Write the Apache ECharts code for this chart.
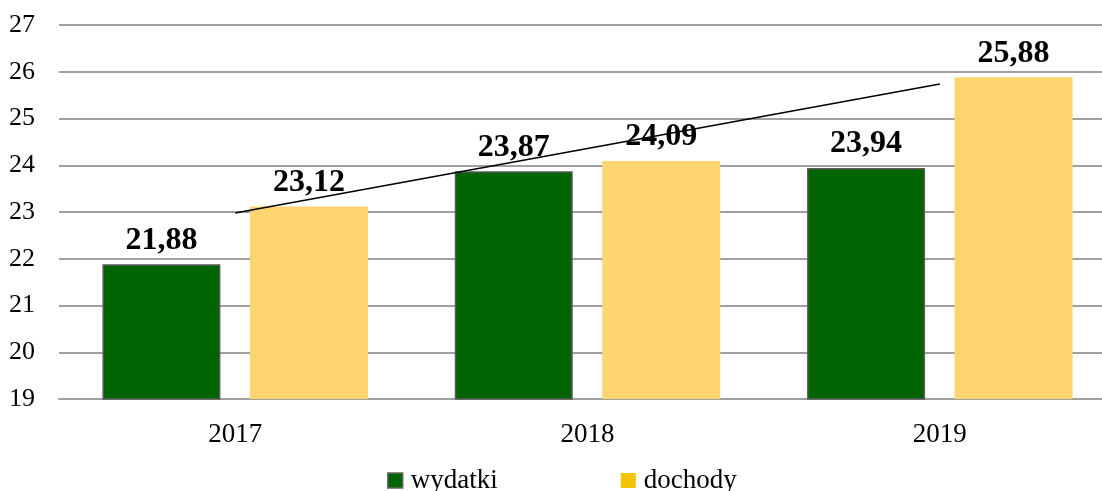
<!DOCTYPE html>
<html>
<head>
<meta charset="utf-8">
<style>
  html, body { margin: 0; padding: 0; background: #fff; }
  #app { width: 1102px; height: 491px; }
</style>
<script src="https://cdn.jsdelivr.net/npm/echarts@6/dist/echarts.min.js"></script>
</head>
<body>
<div id="app"></div>
<script>
// dane
var years = ['2017', '2018', '2019'];
var wydatki = [21.88, 23.87, 23.94];
var dochody = [23.12, 24.09, 25.88];
// linia trendu (dochody)
var trend = [22.98, 24.36, 25.74];

var font = '"Liberation Serif", "Times New Roman", serif';
var fmt = function (p) { return p.value.toFixed(2).replace('.', ','); };

var myEchart = echarts.init(document.getElementById('app'));

var optionData = {
    animation: false,
    grid: { left: 59, width: 1057, top: 25, bottom: 92, outerBoundsMode: 'none', containLabel: false },
    legend: {
        top: 462,
        left: 382,
        itemWidth: 15,
        itemHeight: 15,
        itemGap: 123,
        textStyle: { fontFamily: font, fontSize: 27, color: '#000', padding: [0, 0, 0, 3] },
        data: [
            { name: 'wydatki', icon: 'rect', itemStyle: { color: '#006400', borderColor: '#666', borderWidth: 1.5 } },
            { name: 'dochody', icon: 'rect', itemStyle: { color: '#F5C400', borderWidth: 0 } }
        ]
    },
    xAxis: {
        type: 'category',
        data: years,
        axisTick: { show: false },
        axisLine: { lineStyle: { color: '#A0A0A0', width: 2 } },
        axisLabel: { fontFamily: font, fontSize: 27, color: '#000', margin: 22 }
    },
    yAxis: {
        type: 'value',
        min: 19,
        max: 27,
        interval: 1,
        axisLine: { show: false },
        axisTick: { show: false },
        axisLabel: { fontFamily: font, fontSize: 26, color: '#000', margin: 24 },
        splitLine: { lineStyle: { color: '#A0A0A0', width: 2 } }
    },
    series: [
        {
            name: 'wydatki',
            type: 'bar',
            data: wydatki,
            barWidth: 118,
            barGap: '25%',
            itemStyle: { color: '#006400', borderColor: '#5A5A5A', borderWidth: 1.5 },
            label: {
                show: true, position: 'top', distance: 8, formatter: fmt,
                fontFamily: font, fontSize: 32, fontWeight: 'bold', color: '#000'
            }
        },
        {
            name: 'dochody',
            type: 'bar',
            data: dochody,
            barWidth: 118,
            barGap: '25%',
            itemStyle: { color: '#FED46E' },
            label: {
                show: true, position: 'top', distance: 8, formatter: fmt,
                fontFamily: font, fontSize: 32, fontWeight: 'bold', color: '#000'
            }
        },
        {
            name: 'trend',
            type: 'line',
            data: trend,
            symbol: 'none',
            silent: true,
            z: 5,
            lineStyle: { color: '#000', width: 1.5 }
        }
    ]
};

myEchart.setOption(optionData);
</script>
</body>
</html>
